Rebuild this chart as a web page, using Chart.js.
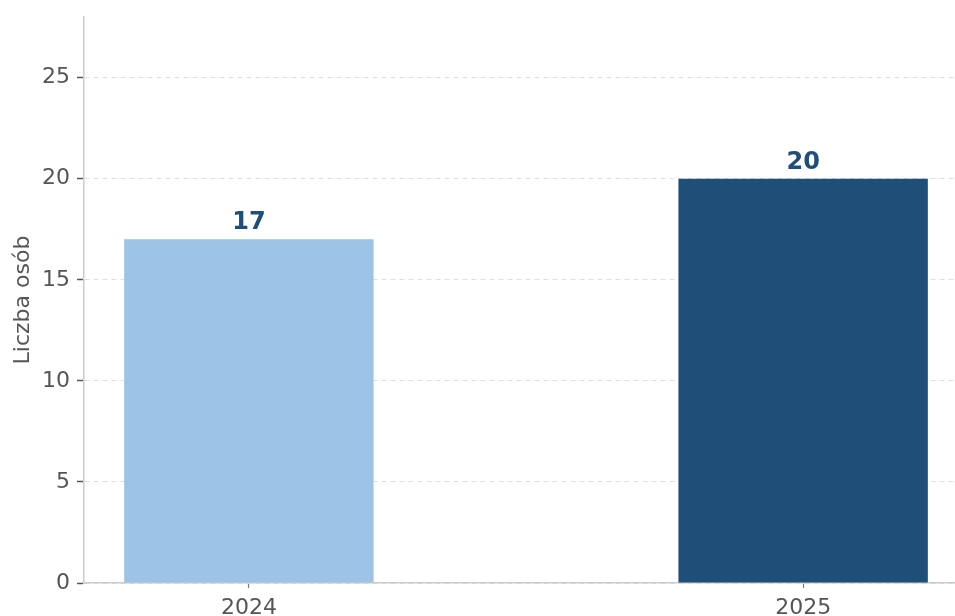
<!DOCTYPE html>
<html>
<head>
<meta charset="utf-8">
<script src="https://cdn.jsdelivr.net/npm/chart.js@4.4.1/dist/chart.umd.min.js"></script>
<style>
  body { margin: 0; background: #fff; overflow: hidden; }
  #wrap { width: 955px; height: 616px; }
</style>
</head>
<body>
<div id="wrap"><canvas id="bar-chart"></canvas></div>
<script>
    // Liczba osób w latach 2024-2025
    const years = ["2024", "2025"];
    const counts = [17, 20];
    const barColors = ["#9dc3e6", "#1f4e79"];

    const dataObj = {
        datasets: [
            {
                label: "Liczba osób",
                data: counts.map((v, i) => ({ x: i, y: v })),
                backgroundColor: barColors,
                borderWidth: 0,
                barPercentage: 0.45,
                categoryPercentage: 1
            }
        ]
    };

    // number above each bar
    const valueLabels = {
        id: "valueLabels",
        afterDatasetsDraw(chart) {
            const ctx = chart.ctx;
            const meta = chart.getDatasetMeta(0);
            ctx.save();
            ctx.font = "bold 24px 'DejaVu Sans'";
            ctx.fillStyle = "#1f4e79";
            ctx.textAlign = "center";
            ctx.textBaseline = "alphabetic";
            meta.data.forEach((bar, i) => {
                ctx.fillText(String(counts[i]), bar.x, bar.y - 10);
            });
            ctx.restore();
        }
    };

    Chart.defaults.font.family = "'DejaVu Sans', sans-serif";

    new Chart("bar-chart", {
        type: "bar",
        data: dataObj,
        plugins: [valueLabels],
        options: {
            responsive: true,
            maintainAspectRatio: false,
            animation: false,
            layout: { padding: { top: 17, right: 0, left: 0, bottom: 0 } },
            plugins: { legend: { display: false }, tooltip: { enabled: false } },
            scales: {
                x: {
                    type: "linear",
                    offset: false,
                    min: -0.2975,
                    max: 1.274,
                    afterBuildTicks: (axis) => { axis.ticks = years.map((_, i) => ({ value: i })); },
                    afterFit: (axis) => { axis.height = 33; axis.paddingLeft = 0; axis.paddingRight = 0; },
                    ticks: {
                        callback: (v) => years[v],
                        font: { size: 22 },
                        color: "#555",
                        padding: 7,
                        maxRotation: 0
                    },
                    grid: { offset: false, drawOnChartArea: false, drawTicks: true, tickLength: 5, tickColor: "#777", tickWidth: 1.2 },
                    border: { color: "#ccc", width: 1.5 }
                },
                y: {
                    min: 0,
                    max: 28,
                    afterBuildTicks: (axis) => { axis.ticks = axis.ticks.filter(t => t.value % 5 === 0); },
                    afterFit: (axis) => { axis.width = 84; axis.paddingTop = 0; axis.paddingBottom = 0; },
                    ticks: { stepSize: 5, font: { size: 22 }, color: "#555", padding: 7 },
                    grid: { color: "#dedede", lineWidth: 1, tickColor: "#555", tickLength: 7, tickWidth: 1.5, tickBorderDash: [] },
                    border: { color: "#ccc", width: 1.5, dash: [5, 4] },
                    title: { display: true, text: "Liczba osób", font: { size: 22 }, color: "#555", padding: { top: 10, bottom: 0 } }
                }
            }
        }
    });
</script>
</body>
</html>
